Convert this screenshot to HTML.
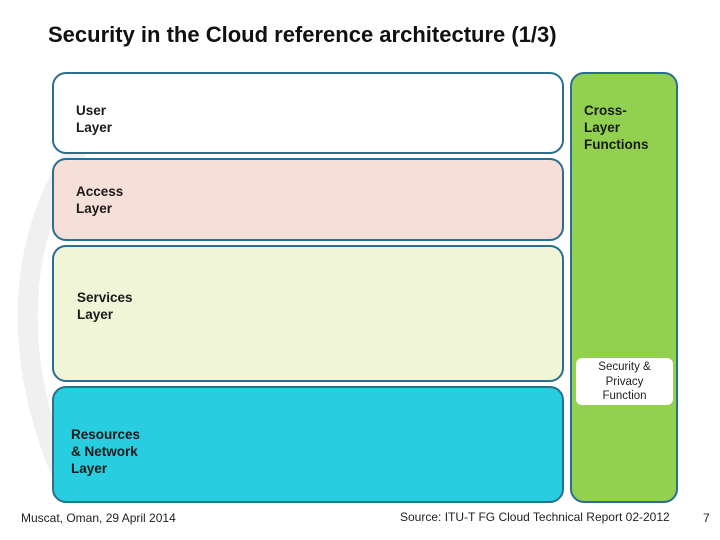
<!DOCTYPE html>
<html><head><style>
body{margin:0;width:720px;height:540px;background:#fff;position:relative;overflow:hidden;font-family:"Liberation Sans",Arial,sans-serif}
.b{position:absolute;box-sizing:border-box;border:2px solid #2a6f8e;border-radius:14px}
.t{position:absolute;font-weight:bold;font-size:13.5px;line-height:17px;color:#1a1a1a}
</style></head><body>
<svg style="position:absolute;left:0;top:0" width="720" height="540"><path d="M150,80 C40,150 -10,300 60,470" stroke="#f0f0f0" stroke-width="20" fill="none"/></svg>
<div style="position:absolute;left:48px;top:22px;font-size:22px;font-weight:bold;color:#111">Security in the Cloud reference architecture (1/3)</div>
<div class="b" style="left:52px;top:72px;width:512px;height:82px;background:#fff"></div>
<div class="b" style="left:52px;top:158px;width:512px;height:83px;background:#f6dfd8"></div>
<div class="b" style="left:52px;top:245px;width:512px;height:137px;background:#f0f5d8"></div>
<div class="b" style="left:52px;top:386px;width:512px;height:117px;background:#29cde0"></div>
<div class="b" style="left:570px;top:72px;width:108px;height:431px;background:#92d050"></div>
<div style="position:absolute;left:576px;top:358px;width:97px;height:47px;background:#fff;border-radius:6px;text-align:center;font-size:11.5px;line-height:14.5px;padding-top:2px;box-sizing:border-box;color:#222">Security &amp;<br>Privacy<br>Function</div>
<div class="t" style="left:76px;top:102px">User<br>Layer</div>
<div class="t" style="left:76px;top:183px">Access<br>Layer</div>
<div class="t" style="left:77px;top:289px">Services<br>Layer</div>
<div class="t" style="left:71px;top:426px">Resources<br>&amp; Network<br>Layer</div>
<div class="t" style="left:584px;top:102px">Cross-<br>Layer<br>Functions</div>
<div style="position:absolute;left:21px;top:511px;font-size:12px;color:#222">Muscat, Oman, 29 April 2014</div>
<div style="position:absolute;left:400px;top:510px;font-size:12px;color:#222">Source: ITU-T FG Cloud Technical Report 02-2012</div>
<div style="position:absolute;left:703px;top:511px;font-size:12px;color:#222">7</div>
</body></html>
